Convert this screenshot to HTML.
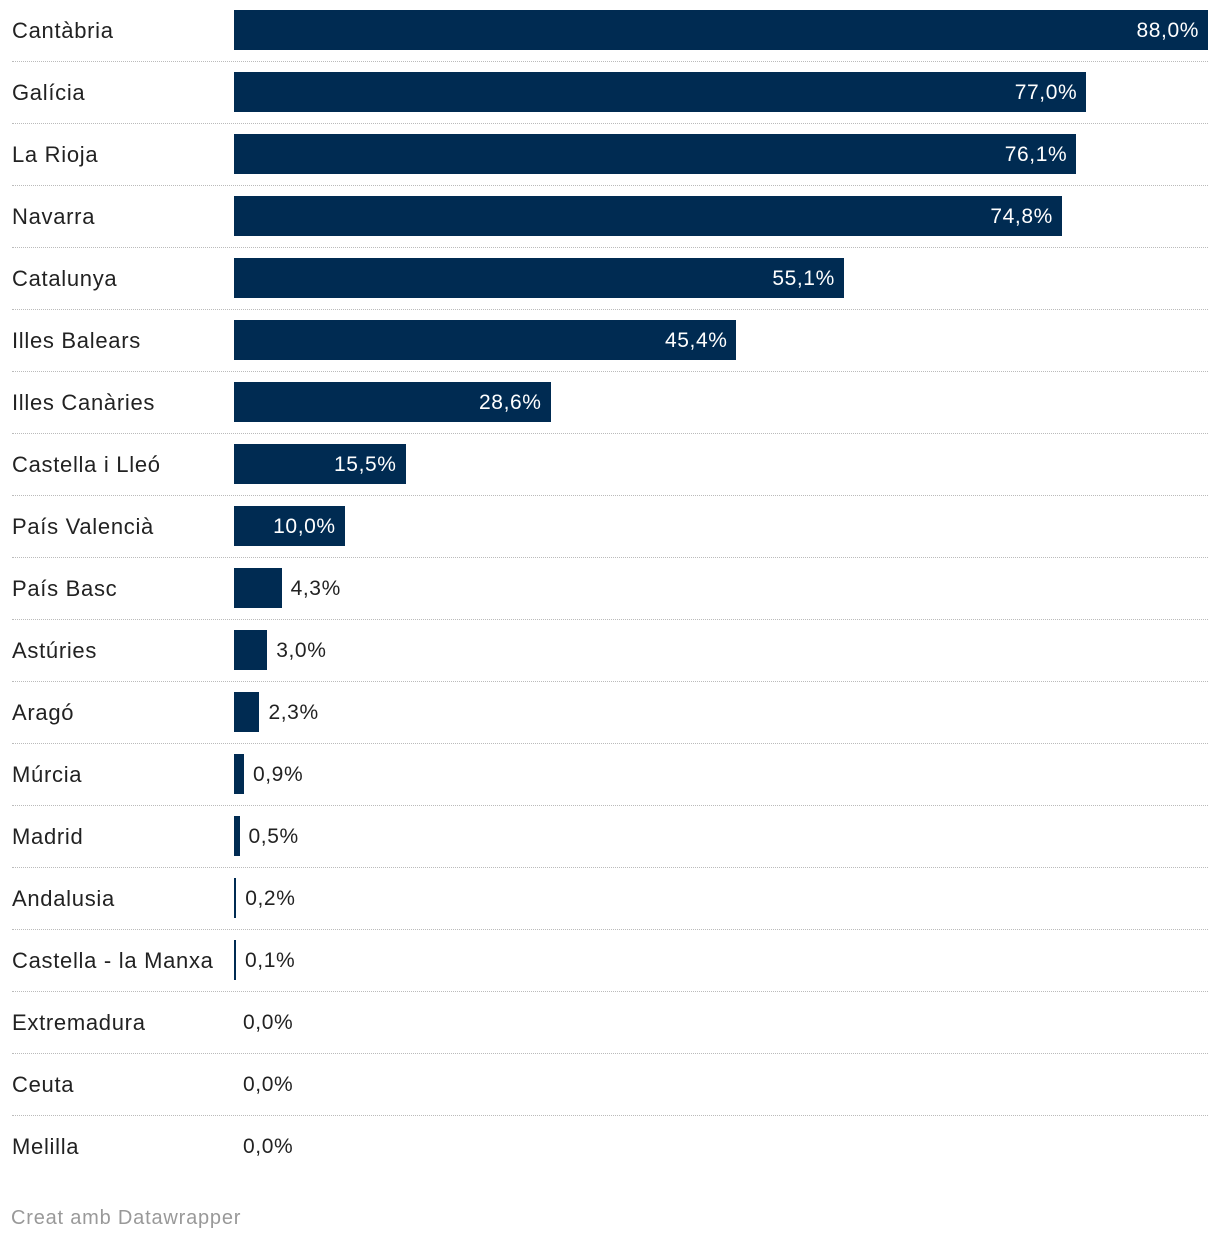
<!DOCTYPE html>
<html><head><meta charset="utf-8"><style>
body{margin:0;background:#fff;width:1220px;height:1242px;overflow:hidden;font-family:"Liberation Sans",Arial,sans-serif;}
#chart{position:relative;width:1220px;height:1242px;}
.lbl{position:absolute;left:12px;font-size:22px;color:#222;line-height:40px;white-space:nowrap;letter-spacing:0.7px;margin-top:1px;}
.bar{position:absolute;background:#002b52;height:40px;}
.val{position:absolute;font-size:21px;line-height:40px;white-space:nowrap;letter-spacing:0.6px;margin-top:1px;}
.sep{position:absolute;left:12px;width:1196px;border-top:1px dotted #bbb;height:0;}
#footer{position:absolute;left:11px;top:1207px;font-size:20px;color:#999;letter-spacing:0.8px;}
</style></head><body>
<div id="chart"></div>
<div id="footer">Creat amb Datawrapper</div>
<script>
const categories=["Cantàbria","Galícia","La Rioja","Navarra","Catalunya","Illes Balears","Illes Canàries","Castella i Lleó","País Valencià","País Basc","Astúries","Aragó","Múrcia","Madrid","Andalusia","Castella - la Manxa","Extremadura","Ceuta","Melilla"];
const values=[88.0,77.0,76.1,74.8,55.1,45.4,28.6,15.5,10.0,4.3,3.0,2.3,0.9,0.5,0.2,0.1,0,0,0];
const valueLabels=["88,0%","77,0%","76,1%","74,8%","55,1%","45,4%","28,6%","15,5%","10,0%","4,3%","3,0%","2,3%","0,9%","0,5%","0,2%","0,1%","0,0%","0,0%","0,0%"];
const x0=234, xMax=88, plotW=974, rowH=62, top0=10;
const xs=v=>v/xMax*plotW;
const c=document.getElementById('chart');
categories.forEach((cat,i)=>{
  const y=top0+i*rowH;
  const l=document.createElement('div');l.className='lbl';l.style.top=y+'px';l.textContent=cat;
  
  
  c.appendChild(l);
  let w=xs(values[i]); if(values[i]>0&&w<2)w=2;
  if(values[i]>0){
    const b=document.createElement('div');b.className='bar';b.style.left=x0+'px';b.style.top=y+'px';b.style.width=w+'px';
    
    
    c.appendChild(b);
  }
  const t=document.createElement('div');t.className='val';t.style.top=y+'px';t.textContent=valueLabels[i];
  
  
  if(w>90){t.style.color='#fff';t.style.right=(1220-(x0+w)+9)+'px';}
  else{t.style.color='#222';t.style.left=(x0+w+9)+'px';}
  c.appendChild(t);
  if(i<categories.length-1){
    const s=document.createElement('div');s.className='sep';s.style.top=(y+51)+'px';
    
    
    c.appendChild(s);
  }
});
</script>
</body></html>
